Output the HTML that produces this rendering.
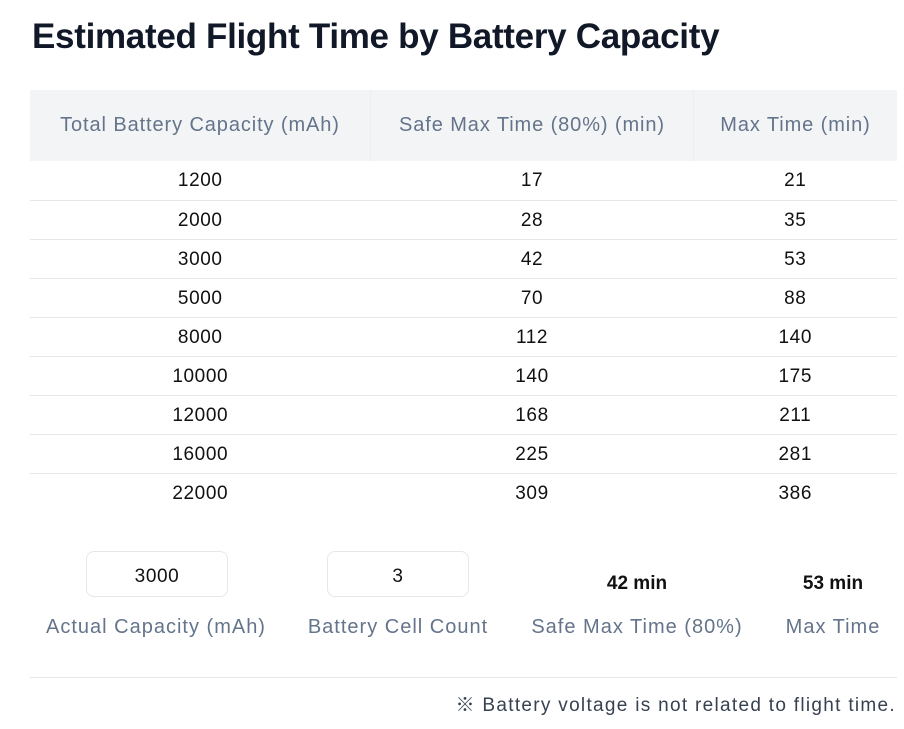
<!DOCTYPE html>
<html><head><meta charset="utf-8"><style>
body{margin:0;width:904px;height:729px;background:#fff;font-family:"Liberation Sans","Noto Sans CJK JP",sans-serif;position:relative;overflow:hidden}
.a{position:absolute}
h1{position:absolute;left:32px;top:17px;margin:0;font-size:35px;font-weight:bold;color:#111827;letter-spacing:-0.3px;white-space:nowrap}
table{position:absolute;left:30px;top:90px;width:867px;border-collapse:collapse}
th{height:71px;background:#f3f4f6;color:#64748b;font-weight:normal;font-size:20px;letter-spacing:0.9px;padding:0}
td{height:39px;border-bottom:1px solid #e5e7eb;text-align:center;font-size:19px;letter-spacing:0.6px;color:#111;padding:2px 0 0 0;box-sizing:border-box}
tr:last-child td{border-bottom:none}
.box{position:absolute;top:551px;width:142px;height:46px;border:1px solid #e5e7eb;border-radius:8px;box-sizing:border-box;text-align:center;line-height:50px;font-size:19px;letter-spacing:0.6px;color:#111}
.lab{position:absolute;top:616px;font-size:20px;letter-spacing:1px;color:#64748b;text-align:center;width:260px;white-space:nowrap}
.res{position:absolute;top:573px;font-size:19px;font-weight:bold;color:#111;text-align:center;width:160px}
</style></head><body>
<h1>Estimated Flight Time by Battery Capacity</h1>
<table>
<tr><th style="width:340px">Total Battery Capacity (mAh)</th><th style="width:322px;border-left:1px solid #eceef1;border-right:1px solid #eceef1">Safe Max Time (80%) (min)</th><th>Max Time (min)</th></tr>
<tr><td>1200</td><td>17</td><td>21</td></tr>
<tr><td>2000</td><td>28</td><td>35</td></tr>
<tr><td>3000</td><td>42</td><td>53</td></tr>
<tr><td>5000</td><td>70</td><td>88</td></tr>
<tr><td>8000</td><td>112</td><td>140</td></tr>
<tr><td>10000</td><td>140</td><td>175</td></tr>
<tr><td>12000</td><td>168</td><td>211</td></tr>
<tr><td>16000</td><td>225</td><td>281</td></tr>
<tr><td>22000</td><td>309</td><td>386</td></tr>
</table>
<div class="box" style="left:86px">3000</div>
<div class="box" style="left:327px">3</div>
<div class="res" style="left:557px">42 min</div>
<div class="res" style="left:753px">53 min</div>
<div class="lab" style="left:26px">Actual Capacity (mAh)</div>
<div class="lab" style="left:268px">Battery Cell Count</div>
<div class="lab" style="left:507px">Safe Max Time (80%)</div>
<div class="lab" style="left:703px">Max Time</div>
<div class="a" style="left:30px;top:677px;width:867px;height:1px;background:#e5e7eb"></div>
<div class="a" style="right:8px;top:690px;font-size:19px;letter-spacing:1.3px;color:#374151;white-space:nowrap">※ Battery voltage is not related to flight time.</div>
</body></html>
